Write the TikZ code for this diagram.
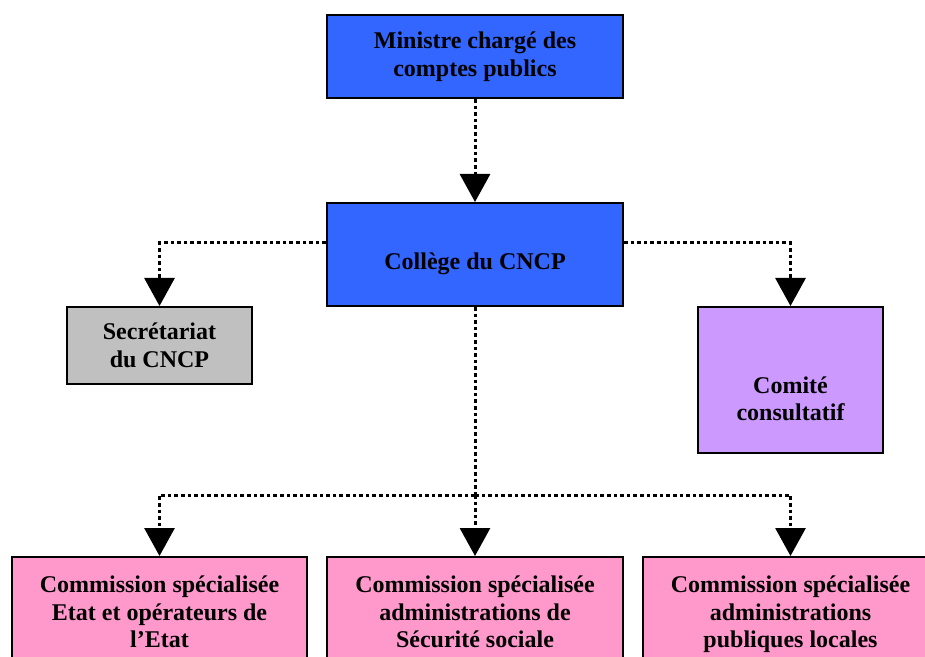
\documentclass[tikz,border=0pt]{standalone}
\usepackage{fontspec}
\setmainfont{Liberation Serif}
\usepackage{xcolor}
\usepackage{tikz}
\usetikzlibrary{positioning,arrows.meta}

\definecolor{cncpblue}{RGB}{51,102,255}
\definecolor{cncpgray}{RGB}{192,192,192}
\definecolor{cncpviolet}{RGB}{204,153,255}
\definecolor{cncppink}{RGB}{255,153,204}

\tikzset{
  unit/.style={draw=black, line width=1pt, align=center, inner sep=0pt,
    font=\fontsize{12}{13.75}\selectfont\bfseries},
  link/.style={line width=1.5pt, dash pattern=on 1.8pt off 1.5pt,
    -{Triangle[width=15pt,length=14pt]}}
}

\begin{document}
\begin{tikzpicture}[x=0.5pt,y=-0.5pt]
\clip (0,0) rectangle (925,657);

\node[unit, fill=cncpblue, minimum width=148pt, minimum height=41.5pt](ministre) at (475,56.5) {Ministre chargé des\\comptes publics};
\node[unit, fill=cncpblue, minimum width=148pt, minimum height=51.5pt](college) at (475,254.5) {\rule{0pt}{18pt}Collège du CNCP};

\node[unit, fill=cncpgray, minimum width=92.5pt, minimum height=38.5pt](secr) at (159.5,345.5) {Secrétariat\\du CNCP};
\node[unit, fill=cncpviolet, minimum width=92.5pt, minimum height=73pt](comite) at (790.5,380) {\rule{0pt}{27pt}Comité\\consultatif};

\node[unit, fill=cncppink, minimum width=147.5pt, minimum height=55pt](com1) at (159.5,612) {Commission spécialisée\\Etat et opérateurs de\\l’Etat};
\node[unit, fill=cncppink, minimum width=148pt, minimum height=55pt](com2) at (475,612) {Commission spécialisée\\administrations de\\Sécurité sociale};
\node[unit, fill=cncppink, minimum width=148pt, minimum height=55pt](com3) at (790.5,612) {\rule{0pt}{11pt}Commission spécialisée\\administrations\\publiques locales};

\coordinate(split) at (475,495);

\draw[link] (ministre.south) -- (college.north);
\draw[link] ([yshift=5.75pt]college.west) -| (secr.north);
\draw[link] ([yshift=5.75pt]college.east) -| (comite.north);

\draw[link, -] (college.south) -- (split);
\draw[link] (split) -| (com1.north);
\draw[link] (split) -- (com2.north);
\draw[link] (split) -| (com3.north);

\end{tikzpicture}
\end{document}
